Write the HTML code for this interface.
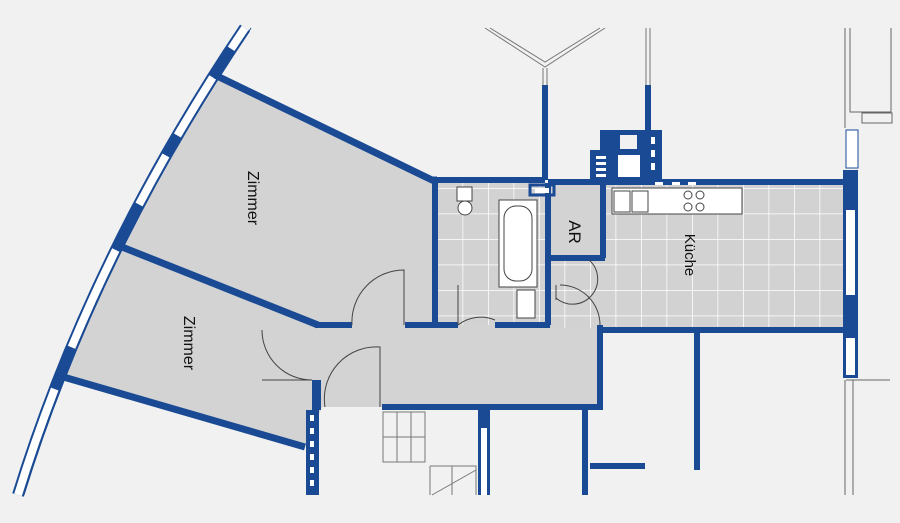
<!DOCTYPE html><html><head><style>body{margin:0;background:#f1f1f1}svg{display:block}</style></head><body>
<svg width="900" height="523" viewBox="0 0 900 523" xmlns="http://www.w3.org/2000/svg">
<defs><pattern id="t" x="437" y="188" width="25.5" height="25.5" patternUnits="userSpaceOnUse"><rect width="25.5" height="25.5" fill="#d2d2d2"/><path d="M0 0H25.5M0 0V25.5" stroke="#fff" stroke-width="1.5"/></pattern></defs>
<rect width="900" height="523" fill="#f1f1f1"/>
<!-- rooms -->
<polygon points="215,75 432,180 437,180 437,325 318,325 117,245 145,195 173,142" fill="#d3d3d3"/>
<polygon points="117,245 318,325 600,325 600,407 322,407 305,447 60,376 85,315" fill="#d3d3d3"/>
<rect x="437" y="183" width="110" height="142" fill="url(#t)"/>
<rect x="545" y="183" width="303" height="145" fill="url(#t)"/>
<rect x="547" y="185" width="58" height="73" fill="#d3d3d3"/>
<!-- curved wall -->
<path d="M245,28 Q92,255 18,495" fill="none" stroke="#1a4a94" stroke-width="12"/>
<path d="M245,28 Q92,255 18,495" fill="none" stroke="#fff" stroke-width="8" stroke-dasharray="25,34,68,23,56,51,107,45,130"/>
<path d="M251,28 Q98,255 24,495" fill="none" stroke="#1a4a94" stroke-width="1"/>
<!-- room walls -->
<g stroke="#1a4a94" fill="none" stroke-width="7">
<path d="M215,75 L432,180 L437,180"/>
<path d="M117,245 L318,325"/>
<path d="M60,376 L305,447"/>
</g>
<g stroke="#1a4a94" fill="none" stroke-width="6">
<path d="M435,180 V325"/>
<path d="M432,180 H545 M545,180 V85"/>
<path d="M315,325 H352 M405,325 H458 M495,325 H550"/>
<path d="M548,183 V325 M548,258 H605 M603,183 V258"/>
<path d="M600,325 V410 M600,330 H848"/>
<path d="M382,407 H602"/>
<path d="M585,407 V495"/>
<path d="M697,330 V470"/>
<path d="M590,466 H645"/>
<path d="M548,182 H850"/>
<path d="M648,85 V180"/>
</g>
<rect x="312" y="380" width="9" height="30" fill="#1a4a94"/>
<rect x="306" y="410" width="13" height="85" fill="#1a4a94"/>
<g fill="#fff"><rect x="310" y="415" width="4" height="6"/><rect x="310" y="428" width="4" height="6"/><rect x="310" y="441" width="4" height="6"/><rect x="310" y="454" width="4" height="6"/><rect x="310" y="467" width="4" height="6"/><rect x="310" y="480" width="4" height="6"/></g>
<rect x="478" y="407" width="12" height="88" fill="#1a4a94"/><rect x="481" y="428" width="6" height="67" fill="#fff"/>
<!-- right wall -->
<rect x="843" y="170" width="15" height="165" fill="#1a4a94"/>
<rect x="846" y="210" width="9" height="85" fill="#fff"/>
<rect x="843" y="335" width="15" height="43" fill="#1a4a94"/><rect x="846" y="338" width="9" height="37" fill="#fff"/>
<rect x="846" y="130" width="12" height="38" fill="#fff" stroke="#1a4a94" stroke-width="1"/>
<g stroke="#666" fill="none" stroke-width="1"><path d="M845,28V128 M850,28V112H891V28 M862,113H892V123H862Z M846,380H890 M853,380V495 M845,380V495"/></g>
<!-- top blocks -->
<rect x="590" y="150" width="22" height="32" fill="#1a4a94"/>
<rect x="600" y="130" width="62" height="52" fill="#1a4a94"/>
<rect x="620" y="135" width="17" height="14" fill="#f1f1f1"/><rect x="618" y="155" width="22" height="22" fill="#fff"/>
<g fill="#fff"><rect x="596" y="156" width="10" height="3"/><rect x="596" y="162" width="10" height="3"/><rect x="596" y="168" width="10" height="3"/><rect x="596" y="174" width="10" height="3"/><rect x="651" y="137" width="4" height="7"/><rect x="651" y="150" width="4" height="7"/><rect x="651" y="163" width="4" height="7"/><rect x="655" y="182" width="8" height="3"/><rect x="672" y="182" width="8" height="3"/><rect x="688" y="182" width="8" height="3"/><rect x="535" y="188" width="14" height="5"/></g>
<rect x="530" y="185" width="24" height="10" fill="none" stroke="#1a4a94" stroke-width="3"/>
<!-- top lines -->
<g stroke="#777" fill="none" stroke-width="1"><path d="M485,28 L545,67 L605,28 M490,28 L545,62 L600,28 M543,68V85 M547,68V85 M646,28V85 M650,28V85"/></g>
<!-- fixtures -->
<rect x="612" y="188" width="130" height="26" fill="#fff" stroke="#444"/>
<rect x="614" y="191" width="16" height="21" fill="none" stroke="#444"/><rect x="632" y="191" width="16" height="21" fill="none" stroke="#444"/>
<g fill="none" stroke="#444"><circle cx="688" cy="195" r="4"/><circle cx="700" cy="195" r="4"/><circle cx="688" cy="207" r="4"/><circle cx="700" cy="207" r="4"/></g>
<rect x="499" y="200" width="38" height="87" fill="#fff" stroke="#444"/><rect x="504" y="206" width="28" height="75" rx="12" fill="none" stroke="#444"/>
<rect x="517" y="290" width="18" height="28" fill="#fff" stroke="#444"/>
<rect x="457" y="187" width="15" height="14" fill="#fff" stroke="#444"/><circle cx="465" cy="208" r="7" fill="#fff" stroke="#444"/>
<!-- doors -->
<g fill="none" stroke="#444" stroke-width="1"><path d="M352,325 A52,52 0 0 1 404,270 V325"/><path d="M262,330 A50,50 0 0 0 312,380 H262"/><path d="M325,407 A52,52 0 0 1 380,347 V407"/><path d="M458,325 A37,37 0 0 1 495,320 M458,285V325"/><path d="M556,298 A25,25 0 0 0 589,260 M556,285V300 M560,285 A40,40 0 0 1 600,325"/></g>
<g stroke="#777" fill="none"><path d="M383,412H425V462H383Z M397,412V462 M411,412V462 M383,437H425 M430,466H476V495 M430,466V495 M432,495L476,470 M452,466V495"/></g>
<g font-family="Liberation Sans, sans-serif" font-size="16" fill="#111">
<text transform="translate(248,198) rotate(90)" text-anchor="middle">Zimmer</text>
<text transform="translate(184,343) rotate(90)" text-anchor="middle">Zimmer</text>
<text transform="translate(569,232) rotate(90)" text-anchor="middle" font-size="17">AR</text>
<text transform="translate(685,255) rotate(90)" text-anchor="middle" font-size="15">Küche</text>
</g>
</svg></body></html>
